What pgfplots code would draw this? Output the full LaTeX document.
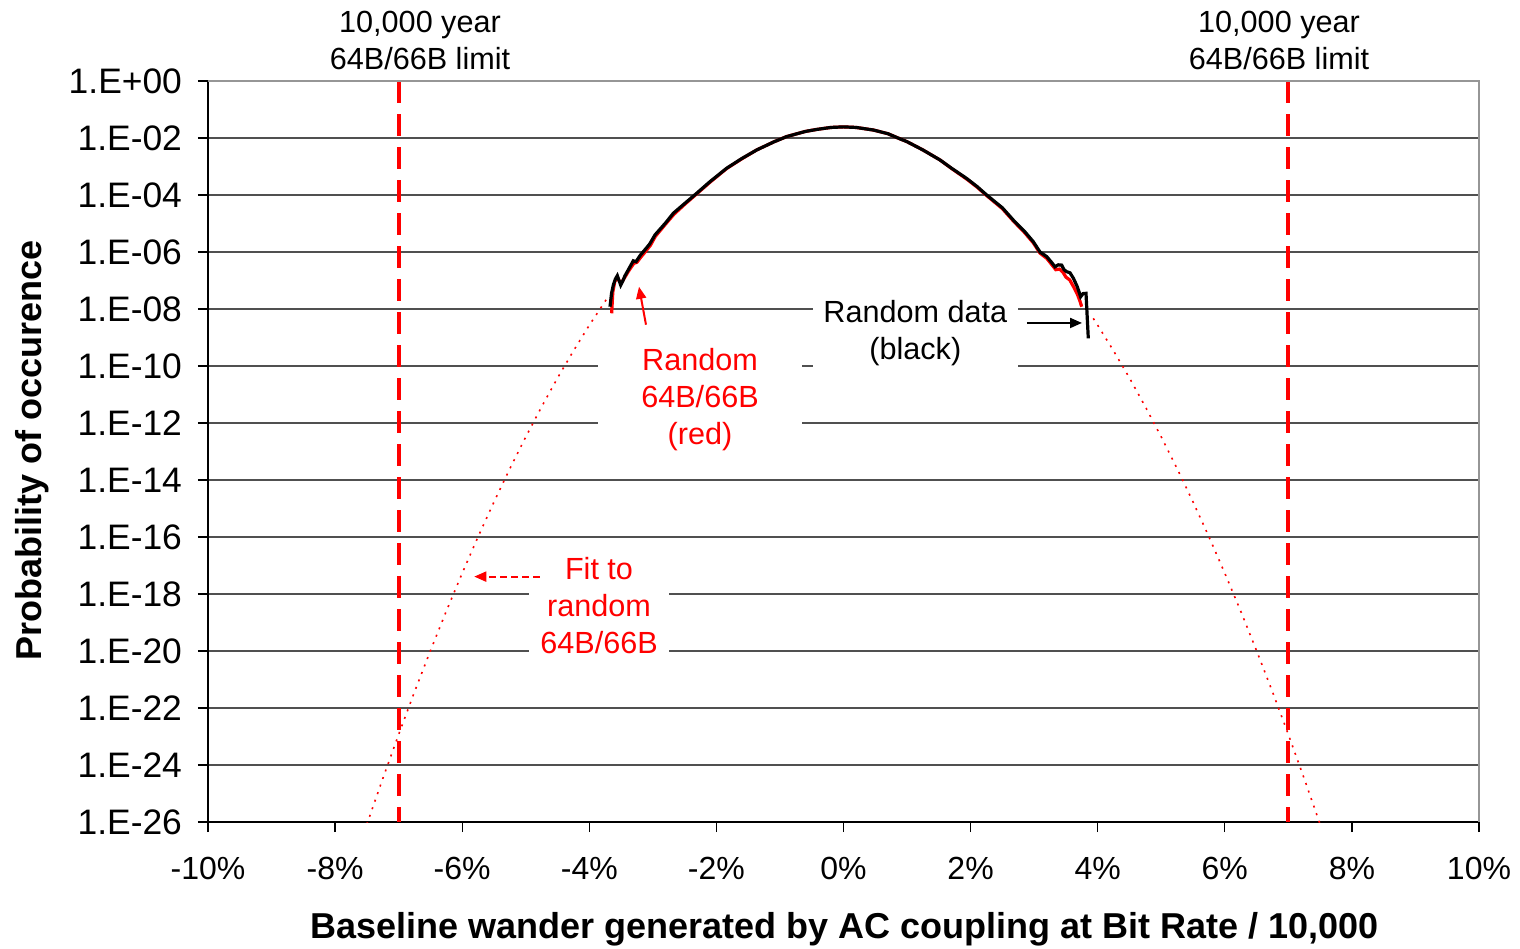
\documentclass[border=0pt]{standalone}
\usepackage{fontspec}
\setmainfont{Liberation Sans}
\usepackage{pgfplots}
\pgfplotsset{compat=1.18}
\usetikzlibrary{arrows.meta}

\definecolor{gridgray}{RGB}{80,80,80}
\definecolor{framegray}{RGB}{150,150,150}

\begin{document}
\begin{tikzpicture}
\useasboundingbox (-104pt,-63pt) rectangle (656pt,411pt);
\begin{axis}[
  at={(0,0)}, anchor=south west,
  scale only axis, width=635.5pt, height=370.5pt,
  xmin=-10, xmax=10, ymin=-26, ymax=0,
  axis x line*=bottom, axis y line*=left,
  xtick={-10,-8,...,10},
  xticklabels={-10\%,-8\%,-6\%,-4\%,-2\%,0\%,2\%,4\%,6\%,8\%,10\%},
  ytick={-26,-24,...,0},
  yticklabels={1.E-26,1.E-24,1.E-22,1.E-20,1.E-18,1.E-16,1.E-14,1.E-12,1.E-10,1.E-08,1.E-06,1.E-04,1.E-02,1.E+00},
  tick align=outside, major tick length=5pt,
  tick style={black, line width=0.6pt},
  axis line style={black, line width=0.6pt},
  ymajorgrids, grid style={draw=gridgray, line width=0.6pt},
  xticklabel style={font=\fontsize{16}{19}\selectfont, yshift=-9pt},
  yticklabel style={font=\fontsize{17.7}{21}\selectfont, xshift=-4.5pt},
  xlabel={Baseline wander generated by AC coupling at Bit Rate / 10,000},
  ylabel={Probability of occurence},
  label style={font=\bfseries\fontsize{18}{21}\selectfont},
  xlabel style={at={(axis description cs:0.501,-0.1445)}, anchor=center},
  ylabel style={at={(axis description cs:-0.1385,0.502)}, anchor=center},
]

% Gaussian fit to the random 64B/66B data (log10 of probability)
\addplot[red, line width=0.8pt, dash pattern=on 1pt off 3pt] coordinates {
 (-7.5,-26.08) (-7.25,-24.48) (-7.0,-22.93) (-6.75,-21.43) (-6.5,-19.99)
 (-6.25,-18.60) (-6.0,-17.27) (-5.75,-15.99) (-5.5,-14.77) (-5.25,-13.60)
 (-5.0,-12.49) (-4.75,-11.43) (-4.5,-10.42) (-4.25,-9.47) (-4.0,-8.57)
 (-3.73,-7.66)
};
\addplot[red, line width=0.8pt, dash pattern=on 1pt off 3pt] coordinates {
 (3.93,-8.33) (4.0,-8.57) (4.25,-9.47) (4.5,-10.42) (4.75,-11.43)
 (5.0,-12.49) (5.25,-13.60) (5.5,-14.77) (5.75,-15.99) (6.0,-17.27)
 (6.25,-18.60) (6.5,-19.99) (6.75,-21.43) (7.0,-22.93) (7.25,-24.48)
 (7.5,-26.08)
};

% Random 64B/66B data
\addplot[red, line width=1.6pt] coordinates {
 (-3.648,-8.15) (-3.630,-7.40) (-3.600,-7.05) (-3.570,-6.92) (-3.540,-6.98)
 (-3.500,-7.10) (-3.450,-6.92) (-3.380,-6.66) (-3.300,-6.40) (-3.250,-6.36)
 (-3.190,-6.18) (-3.140,-6.05) (-3.040,-5.77) (-2.960,-5.45) (-2.800,-5.02)
 (-2.670,-4.68) (-2.500,-4.33) (-2.310,-3.96) (-2.100,-3.55) (-1.838,-3.07)
 (-1.600,-2.73) (-1.366,-2.42) (-1.100,-2.14) (-0.894,-1.95) (-0.600,-1.77)
 (-0.422,-1.70) (-0.200,-1.63) (0,-1.61) (0.200,-1.63) (0.469,-1.72)
 (0.700,-1.85) (0.857,-2.00) (1.000,-2.13) (1.250,-2.42) (1.518,-2.77)
 (1.700,-3.07) (1.938,-3.44) (2.100,-3.72) (2.253,-4.02) (2.500,-4.48)
 (2.672,-4.91) (2.850,-5.32) (2.987,-5.68) (3.092,-6.04) (3.197,-6.22)
 (3.280,-6.45) (3.340,-6.62) (3.400,-6.60) (3.450,-6.70) (3.500,-6.88)
 (3.560,-6.98) (3.620,-7.22) (3.680,-7.48) (3.720,-7.72) (3.748,-7.92)
};

% Random data
\addplot[black, line width=1.6pt] coordinates {
 (-3.674,-7.92) (-3.650,-7.45) (-3.622,-7.16) (-3.590,-6.95) (-3.559,-6.83)
 (-3.506,-7.16) (-3.470,-7.00) (-3.438,-6.83) (-3.380,-6.60) (-3.308,-6.31)
 (-3.265,-6.34) (-3.200,-6.12) (-3.150,-5.99) (-3.050,-5.72) (-2.966,-5.40)
 (-2.800,-4.98) (-2.678,-4.64) (-2.500,-4.30) (-2.310,-3.94) (-2.100,-3.53)
 (-1.838,-3.06) (-1.600,-2.72) (-1.366,-2.42) (-1.100,-2.14) (-0.894,-1.95)
 (-0.600,-1.77) (-0.422,-1.70) (-0.200,-1.63) (0,-1.61) (0.200,-1.63)
 (0.469,-1.72) (0.700,-1.85) (0.857,-2.00) (1.000,-2.13) (1.250,-2.42)
 (1.518,-2.77) (1.700,-3.06) (1.938,-3.42) (2.100,-3.70) (2.253,-4.00)
 (2.500,-4.45) (2.672,-4.88) (2.850,-5.28) (2.987,-5.64) (3.092,-6.00)
 (3.197,-6.16) (3.280,-6.38) (3.328,-6.52) (3.380,-6.45) (3.433,-6.46)
 (3.470,-6.62) (3.512,-6.69) (3.564,-6.73) (3.617,-6.92) (3.679,-7.22)
 (3.732,-7.57) (3.770,-7.46) (3.816,-7.45) (3.852,-9.03)
};

% 10,000 year limits
\addplot[red, line width=2pt, dash pattern=on 11pt off 5.5pt] coordinates {(-7,0) (-7,-26)};
\addplot[red, line width=2pt, dash pattern=on 11pt off 5.5pt] coordinates {(7,0) (7,-26)};

% Annotations
\node[fill=white, align=center, minimum width=102.5pt, inner ysep=4pt,
      font=\fontsize{15.3}{18.5}\selectfont] at (axis cs:1.13,-8.85) {Random data\\(black)};
\draw[black, line width=1pt, -{Triangle[length=6pt,width=5pt]}]
  (axis cs:2.887,-8.49) -- (axis cs:3.753,-8.49);

\node[fill=white, text=red, align=center, minimum width=102pt, inner ysep=4pt,
      font=\fontsize{15.3}{18.5}\selectfont] at (axis cs:-2.258,-11.18) {Random\\64B/66B\\(red)};
\draw[red, line width=1pt, -{Triangle[length=6pt,width=5pt]}]
  (axis cs:-3.108,-8.55) -- (axis cs:-3.218,-7.22);

\node[fill=white, text=red, align=center, minimum width=70pt, inner ysep=2pt,
      font=\fontsize{15.3}{18.5}\selectfont] at (axis cs:-3.847,-18.42) {Fit to\\random\\64B/66B};
\draw[red, line width=1pt, dash pattern=on 3.5pt off 2pt, -{Triangle[length=6pt,width=5pt]}]
  (axis cs:-4.776,-17.39) -- (axis cs:-5.81,-17.39);
\end{axis}

% plot frame, top and right
\draw[framegray, line width=1pt] (0,370.5pt) -- (635.5pt,370.5pt) -- (635.5pt,0);

\node[align=center, font=\fontsize{15.3}{18.5}\selectfont] at (106pt,391pt) {10,000 year\\64B/66B limit};
\node[align=center, font=\fontsize{15.3}{18.5}\selectfont] at (535.5pt,391pt) {10,000 year\\64B/66B limit};
\end{tikzpicture}
\end{document}
